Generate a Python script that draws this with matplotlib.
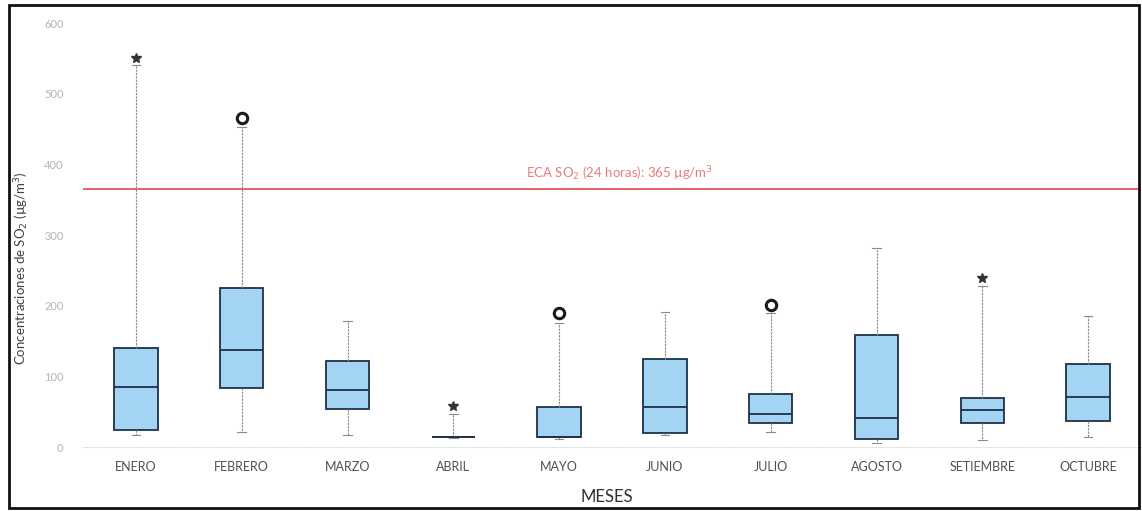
import matplotlib
matplotlib.use("Agg")
import matplotlib.pyplot as plt
from matplotlib.patches import Rectangle

plt.rcParams['font.family'] = ['Lato', 'DejaVu Sans']

# valores (ug/m3)
meses = ['ENERO', 'FEBRERO', 'MARZO', 'ABRIL', 'MAYO', 'JUNIO',
         'JULIO', 'AGOSTO', 'SETIEMBRE', 'OCTUBRE']
bigote_min = [17, 21, 17, 13, 12, 17, 21, 6, 10, 14]
q1 = [24, 83, 54, 13.5, 14, 20, 34, 11, 34, 37]
mediana = [85, 137, 81, 14, 14, 57, 47, 41, 52, 71]
q3 = [140, 225, 122, 14.5, 57, 124, 75, 158, 69, 117]
bigote_max = [540, 453, 178, 47, 175, 191, 190, 281, 228, 185]
atipicos = [[], [465], [], [], [190], [], [201], [], [], []]   # circulos
extremos = [[550], [], [], [58], [], [], [], [], [239], []]   # asteriscos
eca = 365

fig = plt.figure(figsize=(11.42, 5.11), dpi=100)
ax = fig.add_axes([83/1142, 64/511, 1058/1142, 424/511])

stats = []
for i in range(len(meses)):
    stats.append({'whislo': bigote_min[i], 'q1': q1[i], 'med': mediana[i],
                  'q3': q3[i], 'whishi': bigote_max[i], 'fliers': []})

ax.bxp(stats, positions=range(len(meses)), widths=0.41, patch_artist=True,
       showfliers=False,
       boxprops=dict(facecolor='#a4d4f4', edgecolor='#1e3148', linewidth=1.3),
       medianprops=dict(color='#1e3148', linewidth=1.3),
       whiskerprops=dict(color='#8a8a8a', linewidth=0.8, linestyle=(0, (2, 1))),
       capprops=dict(color='#8a8a8a', linewidth=0.8), capwidths=0.08)

for i in range(len(meses)):
    if atipicos[i]:
        ax.plot([i]*len(atipicos[i]), atipicos[i], 'o', mfc='none', mec='#1a1a1a',
                mew=2.2, ms=7.5)
    if extremos[i]:
        ax.plot([i]*len(extremos[i]), extremos[i], '*', color='#333333', ms=7)

ax.axhline(eca, color='#e25a5a', lw=1.3)
ax.text(4.57, eca + 8, 'ECA SO$_2$ (24 horas): 365 µg/m$^3$', color='#e87c7c',
        fontsize=9.5, ha='center', va='bottom')

ax.set_xlim(-0.5, 9.5)
ax.set_ylim(0, 600)
ax.set_yticks(range(0, 601, 100))
ax.set_xticks(range(len(meses)))
ax.set_xticklabels(meses)
ax.tick_params(axis='y', length=0, pad=14, labelsize=8, labelcolor='#b5b5b5')
ax.tick_params(axis='x', length=0, pad=10, labelsize=9, labelcolor='#505050')
for s in ['top', 'right', 'left']:
    ax.spines[s].set_visible(False)
ax.spines['bottom'].set_color('#dddddd')
ax.spines['bottom'].set_linestyle(':')

fig.text(22/1142, 1 - 268/511, 'Concentraciones de SO$_2$ (µg/m$^3$)', rotation=90,
         ha='center', va='center', fontsize=9.5, color='#404040')
fig.text(607/1142, 1 - 497/511, 'MESES', ha='center', va='center',
         fontsize=12, color='#303030')

fig.patches.append(Rectangle((9/1142, 3/511), 1130/1142, 503/511,
                             transform=fig.transFigure, fill=False,
                             edgecolor='#111111', lw=2))

fig.savefig('out.png', dpi=100)
